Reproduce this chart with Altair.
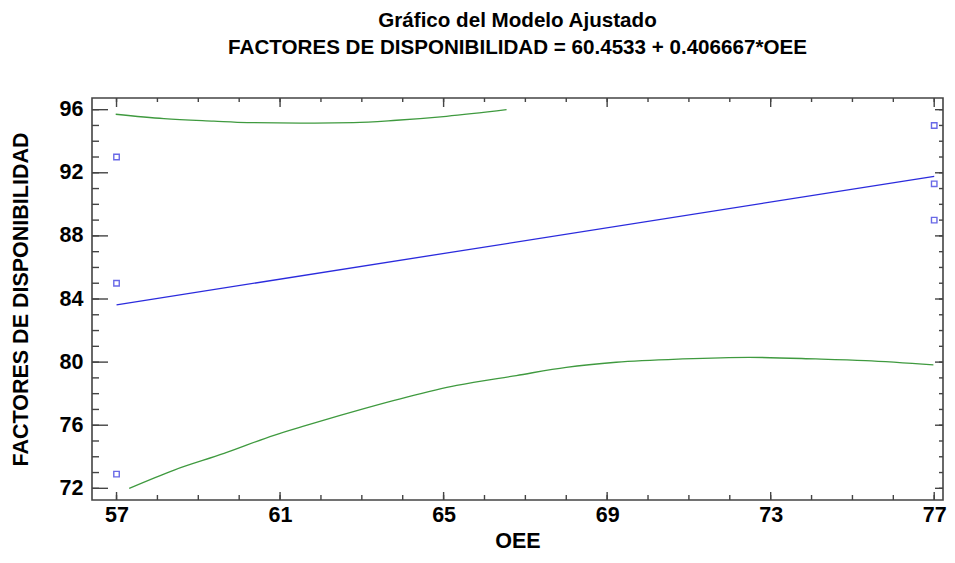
import altair as alt
import pandas as pd

# ---- data ----
obs_oee = [57, 57, 57, 77, 77, 77]
obs_disp = [93.0, 85.0, 72.9, 95.0, 91.3, 89.0]

fit_oee = [57, 77]
fit_disp = [83.63, 91.77]

upper_oee = [56.98, 58.16, 59.38, 60.2, 61.5, 62.8, 63.85, 65.07, 66.54]
upper_disp = [95.71, 95.43, 95.27, 95.18, 95.15, 95.18, 95.33, 95.58, 96.0]

lower_oee = [57.31, 58.41, 59.63, 60.85, 61.66, 62.47, 64.10, 65.32, 66.78,
             68.0, 69.22, 70.85, 72.47, 74.1, 75.32, 76.98]
lower_disp = [72.0, 73.16, 74.21, 75.36, 76.0, 76.62, 77.78, 78.52, 79.15,
              79.67, 79.99, 80.2, 80.3, 80.2, 80.09, 79.82]

x_major = [57, 61, 65, 69, 73, 77]
x_minor = list(range(57, 78))
y_major = [72, 76, 80, 84, 88, 92, 96]
y_minor = list(range(72, 97))

title_lines = ["Gráfico del Modelo Ajustado",
               "FACTORES DE DISPONIBILIDAD = 60.4533 + 0.406667*OEE"]

# ---- layout ----
W, H = 851, 402
FONT = "Liberation Sans"
FRAME = "#444444"
GREEN = "#3f9a3f"
BLUE = "#2b2bdd"

xs = alt.Scale(domain=[56.40, 77.215], nice=False, zero=False)
ys = alt.Scale(domain=[71.26, 96.74], nice=False, zero=False)

xaxis = alt.Axis(title="OEE", values=x_major, ticks=False, tickSize=0, domain=False,
                 grid=False, labelPadding=4, titleY=41, titleBaseline="middle")
yaxis = alt.Axis(title="FACTORES DE DISPONIBILIDAD", values=y_major, ticks=False,
                 tickSize=0, domain=False, grid=False, labelPadding=9,
                 titleX=-71, titleY=H / 2, titleBaseline="middle", titleAlign="center")

X = lambda f: alt.X(f, scale=xs, axis=xaxis)
Y = lambda f: alt.Y(f, scale=ys, axis=yaxis)

def curve(xv, yv, color, width=1.3):
    df = pd.DataFrame({"x": xv, "y": yv})
    return alt.Chart(df).mark_line(color=color, strokeWidth=width,
                                   interpolate="monotone").encode(
        x=X("x:Q"), y=Y("y:Q"))

upper = curve(upper_oee, upper_disp, GREEN)
lower = curve(lower_oee, lower_disp, GREEN)
fit = curve(fit_oee, fit_disp, BLUE)

pts = alt.Chart(pd.DataFrame({"x": obs_oee, "y": obs_disp})).mark_point(
    shape="square", filled=False, color=BLUE, size=30, strokeWidth=1.4
).encode(x=X("x:Q"), y=Y("y:Q"))

def xticks(vals, y0, y1):
    return alt.Chart(pd.DataFrame({"x": vals})).mark_rule(color=FRAME, strokeWidth=1.4).encode(
        x=X("x:Q"), y=alt.value(y0), y2=alt.value(y1))

def yticks(vals, x0, x1):
    return alt.Chart(pd.DataFrame({"y": vals})).mark_rule(color=FRAME, strokeWidth=1.4).encode(
        y=Y("y:Q"), x=alt.value(x0), x2=alt.value(x1))

ticks = [
    xticks(x_minor, H, H - 5), xticks(x_major, H, H - 8),
    xticks(x_minor, 0, 4), xticks(x_major, 0, 9),
    yticks(y_minor, 0, 7), yticks(y_major, 0, 16),
    yticks(y_minor, W, W - 4), yticks(y_major, W, W - 8),
]

chart = alt.layer(upper, lower, fit, pts, *ticks).properties(
    width=W, height=H,
    title=alt.TitleParams(text=title_lines, fontSize=20.6, font=FONT, fontWeight="bold",
                          anchor="middle", frame="group", lineHeight=27, offset=39,
                          color="black"),
    autosize=alt.AutoSizeParams(type="none"),
    padding={"left": 84, "top": 90, "right": 4, "bottom": 55},
).configure_view(stroke=FRAME, strokeWidth=1.6).configure_axis(
    labelFont=FONT, labelFontSize=21.5, labelFontWeight="bold", labelColor="black",
    titleFont=FONT, titleFontSize=21.5, titleFontWeight="bold", titleColor="black",
)

chart.save("out.html", embed_options={"renderer": "svg", "actions": False})
